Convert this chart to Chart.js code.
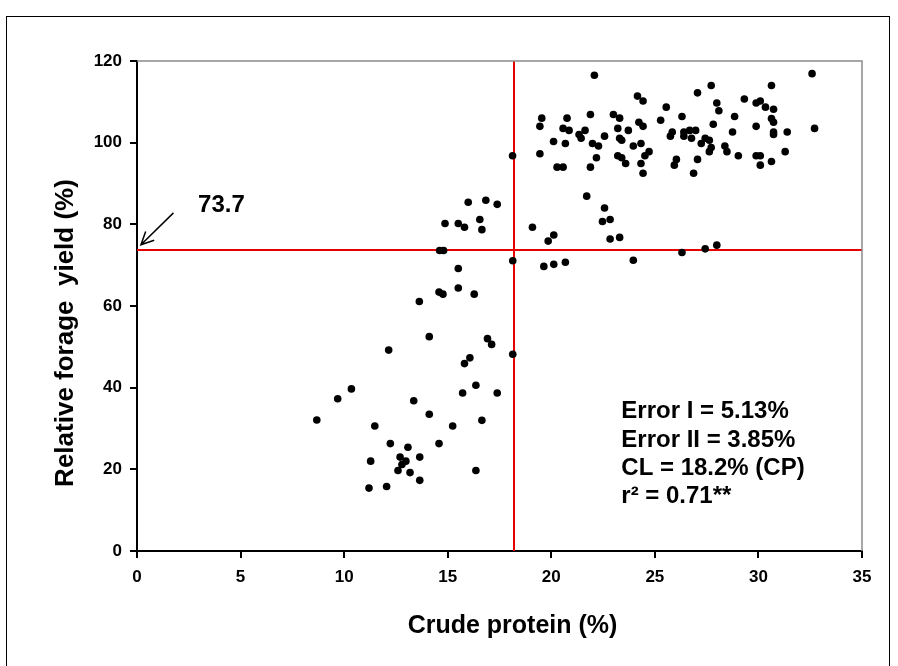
<!DOCTYPE html>
<html>
<head>
<meta charset="utf-8">
<script src="https://cdn.jsdelivr.net/npm/chart.js@4.4.0/dist/chart.umd.min.js"></script>
<style>
  html, body { margin: 0; padding: 0; background: #fff; }
  #wrap { position: relative; width: 898px; height: 666px; overflow: hidden; }
  #wrap canvas { position: absolute; left: 0; top: 0; }
  #frame { position: absolute; left: 6px; top: 16px; width: 884px; height: 700px;
           border: 1px solid #000; border-bottom: none; box-sizing: border-box; pointer-events: none; }
</style>
</head>
<body>
<div id="wrap">
  <canvas id="cpChart" width="898" height="666"></canvas>
  <div id="frame"></div>
</div>
<script>
// Crude protein (%) of each sample
const crudeProtein = [
  22.08, 19.54, 19.45, 20.76, 20.57, 20.86, 21.89, 23.00, 23.30, 23.21,
  23.72, 21.34, 21.44, 21.63, 20.11, 20.68, 21.99, 22.28, 22.57, 23.30,
  23.40, 19.45, 22.18, 23.21, 23.40, 23.59, 20.28, 20.57, 21.89, 18.13,
  24.16, 24.43, 25.55, 27.06, 27.72, 27.99, 28.09, 29.32, 24.23, 24.43,
  25.28, 26.31, 23.96, 24.33, 24.52, 24.72, 24.33, 24.43, 25.75, 25.84,
  26.40, 26.40, 26.68, 26.97, 26.77, 27.24, 27.43, 27.63, 27.82, 27.63,
  27.72, 25.94, 26.04, 27.06, 26.87, 28.85, 28.75, 28.38, 28.48, 29.03,
  32.59, 32.71, 30.63, 29.89, 30.09, 30.34, 30.73, 30.63, 30.73, 29.89,
  30.73, 30.73, 31.39, 29.89, 30.09, 30.09, 30.63, 31.29,
  18.14, 21.71, 22.57, 22.47, 22.84, 22.84, 23.30, 19.09, 20.12, 19.85,
  19.64, 20.12, 20.68, 23.96, 26.31, 27.43, 27.99,
  15.99, 16.84, 17.39, 14.87, 15.51, 15.81, 16.55, 16.65, 14.61, 14.80,
  15.51, 14.58, 14.77, 15.51, 16.28, 13.63, 14.11, 12.15, 16.92, 17.12,
  16.07, 15.81, 18.14, 16.36, 15.72, 17.39, 13.36, 14.11, 11.48, 15.24,
  16.65, 12.23, 13.08, 14.58, 11.28, 12.70, 12.98, 12.79, 12.60, 13.65,
  13.18, 13.65, 12.05, 11.20, 16.36, 8.68, 9.69, 10.35
];

// Relative forage yield (%) of each sample
const relYield = [
  116.5, 106.0, 104.0, 106.0, 103.5, 103.0, 106.9, 106.9, 106.0, 103.5,
  103.0, 102.0, 101.1, 103.0, 100.3, 99.8, 99.8, 99.2, 101.6, 101.1,
  100.6, 97.3, 96.3, 96.8, 96.3, 94.9, 94.0, 94.0, 94.0, 96.8,
  111.4, 110.2, 108.7, 112.2, 114.0, 109.7, 107.8, 110.7, 105.0, 104.0,
  105.5, 106.4, 99.2, 99.8, 96.8, 97.8, 94.9, 92.5, 101.6, 102.6,
  102.6, 101.6, 103.0, 103.0, 101.1, 99.8, 101.1, 100.6, 104.5, 97.8,
  98.8, 94.5, 95.9, 95.9, 92.5, 106.4, 102.6, 99.2, 97.8, 96.8,
  116.9, 103.5, 114.0, 109.7, 110.2, 108.7, 108.2, 105.9, 105.0, 104.0,
  102.6, 102.0, 102.6, 96.8, 96.8, 94.5, 95.4, 97.8,
  71.1, 86.9, 84.0, 80.7, 81.2, 76.4, 76.8, 79.3, 77.4, 75.9,
  69.7, 70.2, 70.7, 71.2, 73.1, 74.0, 74.9,
  85.4, 85.9, 84.9, 80.2, 80.2, 79.3, 81.2, 78.7, 73.6, 73.6,
  69.2, 63.4, 62.9, 64.4, 62.9, 61.1, 52.5, 49.2, 52.0, 50.6,
  47.3, 45.9, 48.2, 40.6, 38.7, 38.7, 36.8, 33.5, 30.6, 30.6,
  32.0, 26.3, 25.4, 26.3, 22.0, 23.0, 22.0, 21.2, 19.7, 23.0,
  19.2, 17.3, 15.8, 15.4, 19.7, 32.1, 37.3, 39.7
];

// Cate-Nelson critical levels
const critCP = 18.2;
const critYield = 73.7;

// axis ranges
const xRange = [0, 35];
const xStep = 5;
const yRange = [0, 120];
const yStep = 20;

const xTitle = "Crude protein (%)";
const yTitle = "Relative forage  yield (%)";
const critLabel = "73.7";
const statLines = ["Error I = 5.13%", "Error II = 3.85%", "CL = 18.2% (CP)", "r\u00B2 = 0.71**"];

const FONT = "'Liberation Sans', Arial, Helvetica, sans-serif";

const points = crudeProtein.map((v, i) => ({ x: v, y: relYield[i] }));

// frame, axis titles and labels drawn by hand
const annotatePlugin = {
  id: "annotate",
  afterDatasetsDraw(chart) {
    const { ctx, chartArea: a, scales } = chart;
    const x = scales.x, y = scales.y;
    ctx.save();

    // grey top/right edge of the plot area
    ctx.strokeStyle = "#8a8a8a";
    ctx.lineWidth = 1.5;
    ctx.beginPath();
    ctx.moveTo(a.left, a.top);
    ctx.lineTo(a.right, a.top);
    ctx.lineTo(a.right, a.bottom);
    ctx.stroke();

    ctx.fillStyle = "#000";
    ctx.textBaseline = "middle";
    ctx.textAlign = "center";

    // axis titles
    ctx.font = "bold 25px " + FONT;
    ctx.fillText(xTitle, (a.left + a.right) / 2 + 13, a.bottom + 75);
    ctx.save();
    ctx.font = "bold 26px " + FONT;
    ctx.translate(a.left - 71, (a.top + a.bottom) / 2 + 27);
    ctx.rotate(-Math.PI / 2);
    ctx.fillText(yTitle, 0, 0);
    ctx.restore();

    // arrow pointing at the critical yield on the y axis
    const x0 = x.getPixelForValue(1.76), y0 = y.getPixelForValue(82.8);
    const x1 = x.getPixelForValue(0.19), y1 = y.getPixelForValue(75.0);
    ctx.strokeStyle = "#000";
    ctx.lineWidth = 1.5;
    ctx.beginPath();
    ctx.moveTo(x0, y0);
    ctx.lineTo(x1, y1);
    const ang = Math.atan2(y0 - y1, x0 - x1);
    const head = 14;
    ctx.moveTo(x1 + head * Math.cos(ang - 0.45), y1 + head * Math.sin(ang - 0.45));
    ctx.lineTo(x1, y1);
    ctx.lineTo(x1 + head * Math.cos(ang + 0.45), y1 + head * Math.sin(ang + 0.45));
    ctx.stroke();

    ctx.font = "bold 24px " + FONT;
    ctx.textAlign = "left";
    ctx.textBaseline = "alphabetic";
    ctx.fillText(critLabel, x.getPixelForValue(2.95), y.getPixelForValue(83.0));

    // statistics box
    const sx = x.getPixelForValue(23.38);
    let sy = y.getPixelForValue(32.5);
    statLines.forEach((t) => {
      ctx.fillText(t, sx, sy);
      sy += 28.3;
    });

    ctx.restore();
  }
};

const tickFont = { family: FONT, size: 17, weight: "bold" };

new Chart(document.getElementById("cpChart"), {
  type: "scatter",
  data: {
    datasets: [
      {
        label: "samples",
        data: points,
        backgroundColor: "#000",
        borderWidth: 0,
        pointRadius: 3.8,
        order: 1
      },
      {
        type: "line",
        label: "CL CP",
        data: [{ x: critCP, y: yRange[0] }, { x: critCP, y: yRange[1] }],
        borderColor: "#e60000",
        borderWidth: 2,
        pointRadius: 0,
        order: 2
      },
      {
        type: "line",
        label: "CL yield",
        data: [{ x: xRange[0], y: critYield }, { x: xRange[1], y: critYield }],
        borderColor: "#e60000",
        borderWidth: 2,
        pointRadius: 0,
        order: 2
      }
    ]
  },
  options: {
    responsive: false,
    animation: false,
    layout: { padding: { top: 61, right: 36, bottom: 0, left: 0 } },
    plugins: {
      legend: { display: false },
      tooltip: { enabled: false }
    },
    scales: {
      x: {
        type: "linear",
        min: xRange[0],
        max: xRange[1],
        ticks: { stepSize: xStep, color: "#000", font: tickFont, padding: 9, maxRotation: 0 },
        grid: { drawOnChartArea: false, drawTicks: true, tickLength: 7, color: "#000", lineWidth: 2 },
        border: { color: "#000", width: 2 },
        afterFit: (s) => { s.height = 115; }
      },
      y: {
        type: "linear",
        min: yRange[0],
        max: yRange[1],
        ticks: { stepSize: yStep, color: "#000", font: tickFont, padding: 8 },
        grid: { drawOnChartArea: false, drawTicks: true, tickLength: 7, color: "#000", lineWidth: 2 },
        border: { color: "#000", width: 2 },
        afterFit: (s) => { s.width = 137; }
      }
    }
  },
  plugins: [annotatePlugin]
});
</script>
</body>
</html>
